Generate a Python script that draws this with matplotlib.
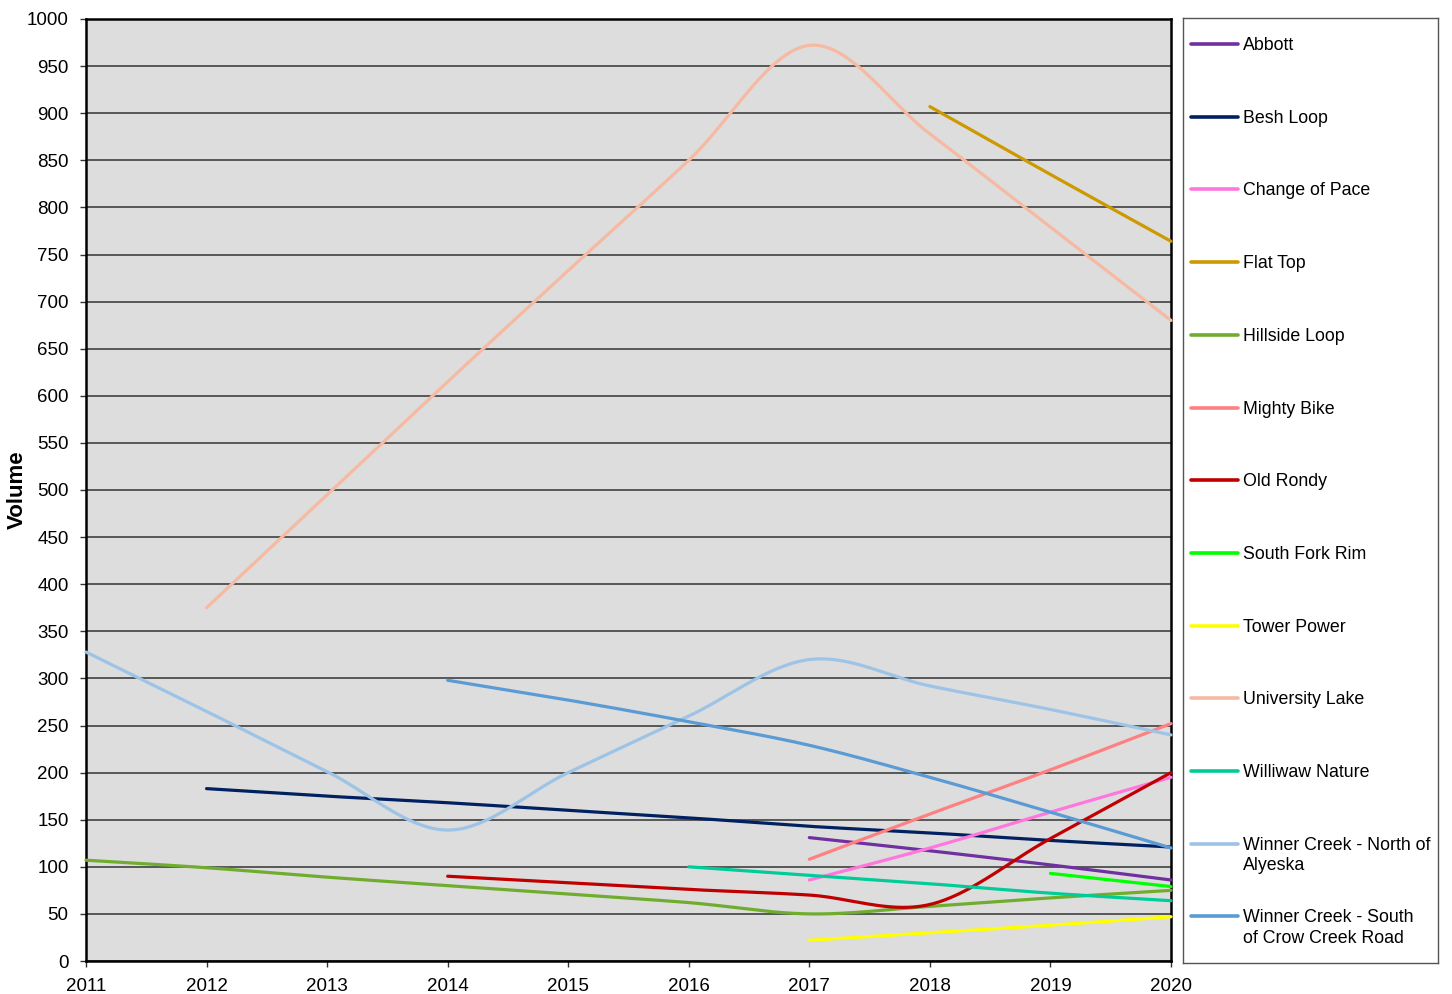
import numpy as np
import matplotlib
matplotlib.use("Agg")
import matplotlib.pyplot as plt

plt.rcParams["font.family"] = ["Liberation Sans", "DejaVu Sans"]

# ------------------------------------------------------------
# data: yearly volume per trail (nan = not counted)
# ------------------------------------------------------------
years = [2011, 2012, 2013, 2014, 2015, 2016, 2017, 2018, 2019, 2020]
nan = np.nan

abbott = [nan, nan, nan, nan, nan, nan, 131, 117, 102, 86]
besh_loop = [nan, 183, 175, 168, 160, 152, 143, 136, 128, 121]
change_of_pace = [nan, nan, nan, nan, nan, nan, 86, 120, 158, 195]
flat_top = [nan, nan, nan, nan, nan, nan, nan, 907, 835, 764]
hillside_loop = [107, 99, 89, 80, 71, 62, 50, 58, 67, 75]
mighty_bike = [nan, nan, nan, nan, nan, nan, 108, 156, 203, 252]
old_rondy = [nan, nan, nan, 90, 83, 76, 70, 60, 130, 200]
south_fork_rim = [nan, nan, nan, nan, nan, nan, nan, nan, 93, 79]
tower_power = [nan, nan, nan, nan, nan, nan, 22, 30, 38, 47]
university_lake = [nan, 375, 495, 615, 733, 850, 972, 878, 779, 680]
williwaw_nature = [nan, nan, nan, nan, nan, 100, 91, 82, 72, 64]
winner_north = [328, 265, 201, 139, 200, 260, 320, 292, 267, 240]
winner_south = [nan, nan, nan, 298, 277, 254, 229, 195, 158, 120]

series = [
    ("Abbott", abbott, "#7030A0"),
    ("Besh Loop", besh_loop, "#002060"),
    ("Change of Pace", change_of_pace, "#FF77DD"),
    ("Flat Top", flat_top, "#CC9900"),
    ("Hillside Loop", hillside_loop, "#70AD2F"),
    ("Mighty Bike", mighty_bike, "#FF8080"),
    ("Old Rondy", old_rondy, "#C00000"),
    ("South Fork Rim", south_fork_rim, "#00FF00"),
    ("Tower Power", tower_power, "#FFFF00"),
    ("University Lake", university_lake, "#F6B9A2"),
    ("Williwaw Nature", williwaw_nature, "#00CC99"),
    ("Winner Creek - North of\nAlyeska", winner_north, "#9DC3E6"),
    ("Winner Creek - South\nof Crow Creek Road", winner_south, "#5B9BD5"),
]


def smooth(x, y, n=40):
    # catmull-rom style bezier through the points (spreadsheet "smoothed line")
    x = np.asarray(x, float)
    y = np.asarray(y, float)
    if len(x) < 3:
        return x, y
    px = np.concatenate([[x[0]], x, [x[-1]]])
    py = np.concatenate([[y[0]], y, [y[-1]]])
    t = np.linspace(0, 1, n)
    xs, ys = [], []
    for i in range(1, len(px) - 2):
        p0x, p1x, p2x, p3x = px[i - 1], px[i], px[i + 1], px[i + 2]
        p0y, p1y, p2y, p3y = py[i - 1], py[i], py[i + 1], py[i + 2]
        c1x, c1y = p1x + (p2x - p0x) / 6, p1y + (p2y - p0y) / 6
        c2x, c2y = p2x - (p3x - p1x) / 6, p2y - (p3y - p1y) / 6
        bx = (1 - t) ** 3 * p1x + 3 * (1 - t) ** 2 * t * c1x + 3 * (1 - t) * t ** 2 * c2x + t ** 3 * p2x
        by = (1 - t) ** 3 * p1y + 3 * (1 - t) ** 2 * t * c1y + 3 * (1 - t) * t ** 2 * c2y + t ** 3 * p2y
        xs.append(bx)
        ys.append(by)
    return np.concatenate(xs), np.concatenate(ys)


# ------------------------------------------------------------
# figure
# ------------------------------------------------------------
fig = plt.figure(figsize=(14.52, 9.94), dpi=100)
ax = fig.add_axes([86 / 1452, 1 - 961 / 994, (1171 - 86) / 1452, 942 / 994])
ax.set_facecolor("#DDDDDD")

for nome, valores, cor in series:
    v = np.asarray(valores, float)
    ok = ~np.isnan(v)
    xs, ys = smooth(np.asarray(years)[ok], v[ok])
    ax.plot(xs, ys, color=cor, lw=2.3, solid_capstyle="round", zorder=3, clip_on=False)

ax.set_xlim(2011, 2020)
ax.set_ylim(0, 1000)
ax.set_xticks(years)
ax.set_yticks(np.arange(0, 1001, 50))
ax.tick_params(axis="both", labelsize=13.5, length=4.5, width=1, color="#333333")
ax.tick_params(axis="y", pad=8)
ax.tick_params(axis="x", pad=8)
ax.grid(axis="y", color="#333333", lw=1.1)
ax.set_axisbelow(True)
for s in ax.spines.values():
    s.set_linewidth(1.8)
    s.set_color("black")

ax.set_ylabel("Volume", fontsize=16, fontweight="bold")
ax.yaxis.set_label_coords((28 - 86) / 1085, 0.5)

# ------------------------------------------------------------
# legend box on the right
# ------------------------------------------------------------
lax = fig.add_axes([1183 / 1452, 1 - 963 / 994, (1438 - 1183) / 1452, (963 - 18) / 994])
lax.set_xlim(0, 255)
lax.set_ylim(945, 0)
lax.set_xticks([])
lax.set_yticks([])
for s in lax.spines.values():
    s.set_linewidth(1)
    s.set_color("#555555")

for i, (nome, valores, cor) in enumerate(series):
    yy = 26 + i * 72.7
    lax.plot([8, 55], [yy, yy], color=cor, lw=2.6, solid_capstyle="round")
    lax.text(60, yy - 7, nome, fontsize=12.8, va="top", ha="left", linespacing=1.25)

fig.savefig("out.png", dpi=100)
